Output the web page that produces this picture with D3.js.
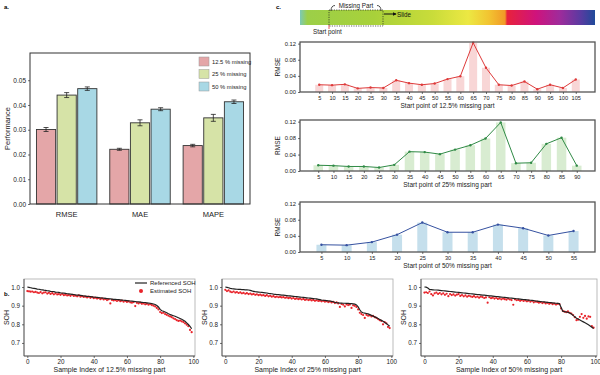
<!DOCTYPE html>
<html>
<head>
<meta charset="utf-8">
<script src="https://cdn.jsdelivr.net/npm/d3@7"></script>
<style>
  body { margin: 0; background: #fff; }
  svg { display: block; font-family: "Liberation Sans", Arial, sans-serif; }
</style>
</head>
<body>
<svg id="fig" width="600" height="375"></svg>
<script>
// ---- panel a: mean performance with error bars ----
const metrics = ["RMSE", "MAE", "MAPE"];
const missingLevels = ["12.5 % missing", "25 % missing", "50 % missing"];
const meanRMSE = [0.0301, 0.0440, 0.0466];
const meanMAE = [0.0221, 0.0328, 0.0383];
const meanMAPE = [0.0236, 0.0348, 0.0413];
const errRMSE = [0.0008, 0.0010, 0.0007];
const errMAE = [0.0004, 0.0012, 0.0006];
const errMAPE = [0.0005, 0.0014, 0.0007];
const perfTicks = [0, 0.01, 0.02, 0.03, 0.04, 0.05];

// ---- panel c: sliding missing part ----
const start125 = [5, 10, 15, 20, 25, 30, 35, 40, 45, 50, 55, 60, 65, 70, 75, 80, 85, 90, 95, 100, 105];
const rmse125 = [0.018, 0.017, 0.019, 0.009, 0.011, 0.010, 0.029, 0.022, 0.018, 0.021, 0.032, 0.039,
  0.122, 0.060, 0.018, 0.016, 0.026, 0.007, 0.018, 0.010, 0.031];
const start25 = [5, 10, 15, 20, 25, 30, 35, 40, 45, 50, 55, 60, 65, 70, 75, 80, 85, 90];
const rmse25 = [0.014, 0.013, 0.011, 0.011, 0.0085, 0.015, 0.047, 0.046, 0.041, 0.052, 0.0625, 0.079,
  0.118, 0.019, 0.020, 0.066, 0.081, 0.013];
const start50 = [5, 10, 15, 20, 25, 30, 35, 40, 45, 50, 55];
const rmse50 = [0.018, 0.017, 0.0245, 0.043, 0.073, 0.049, 0.049, 0.068, 0.059, 0.041, 0.052];
const rmseTicks = [0, 0.04, 0.08, 0.12];

// ---- panel b: referenced vs estimated SOH (sample index = position) ----
const refSoh125 = [
  1.000, 0.998, 0.996, 0.994, 0.993, 0.991, 0.989, 0.988, 0.986, 0.985,
  0.983, 0.982, 0.980, 0.979, 0.977, 0.976, 0.975, 0.973, 0.972, 0.971,
  0.969, 0.968, 0.967, 0.966, 0.964, 0.963, 0.962, 0.961, 0.960, 0.958,
  0.957, 0.956, 0.955, 0.954, 0.952, 0.951, 0.950, 0.949, 0.948, 0.947,
  0.946, 0.945, 0.944, 0.943, 0.942, 0.941, 0.940, 0.939, 0.938, 0.937,
  0.936, 0.935, 0.934, 0.934, 0.933, 0.932, 0.931, 0.930, 0.929, 0.928,
  0.927, 0.926, 0.925, 0.924, 0.923, 0.922, 0.921, 0.920, 0.919, 0.918,
  0.917, 0.916, 0.915, 0.914, 0.913, 0.911, 0.909, 0.906, 0.901, 0.893,
  0.880, 0.873, 0.870, 0.866, 0.862, 0.857, 0.853, 0.849, 0.846, 0.843,
  0.839, 0.835, 0.831, 0.827, 0.822, 0.816, 0.808, 0.799, 0.789, 0.776];
const estSoh125 = [
  0.978, 0.977, 0.975, 0.976, 0.972, 0.974, 0.970, 0.968, 0.973, 0.966,
  0.970, 0.972, 0.965, 0.969, 0.963, 0.967, 0.961, 0.966, 0.960, 0.962,
  0.958, 0.963, 0.956, 0.959, 0.955, 0.957, 0.953, 0.958, 0.952, 0.954,
  0.950, 0.955, 0.948, 0.951, 0.947, 0.949, 0.944, 0.948, 0.942, 0.946,
  0.940, 0.943, 0.938, 0.941, 0.935, 0.939, 0.933, 0.936, 0.930, 0.934,
  0.912, 0.931, 0.928, 0.930, 0.925, 0.929, 0.924, 0.927, 0.921, 0.925,
  0.920, 0.923, 0.918, 0.916, 0.919, 0.898, 0.915, 0.912, 0.916, 0.910,
  0.912, 0.907, 0.910, 0.905, 0.908, 0.903, 0.900, 0.896, 0.888, 0.880,
  0.866, 0.860, 0.862, 0.855, 0.851, 0.846, 0.842, 0.838, 0.832, 0.828,
  0.822, 0.818, 0.820, 0.816, 0.812, 0.805, 0.798, 0.790, 0.770, 0.758];
const refSoh25 = [
  1.000, 0.998, 0.996, 0.993, 0.991, 0.990, 0.989, 0.988, 0.987, 0.987,
  0.986, 0.986, 0.985, 0.985, 0.984, 0.982, 0.979, 0.977, 0.975, 0.974,
  0.973, 0.972, 0.971, 0.970, 0.969, 0.968, 0.966, 0.965, 0.964, 0.962,
  0.961, 0.960, 0.959, 0.958, 0.957, 0.956, 0.955, 0.954, 0.953, 0.952,
  0.951, 0.950, 0.949, 0.948, 0.947, 0.946, 0.945, 0.944, 0.943, 0.942,
  0.941, 0.940, 0.939, 0.938, 0.937, 0.936, 0.934, 0.932, 0.930, 0.929,
  0.928, 0.927, 0.926, 0.925, 0.923, 0.921, 0.918, 0.916, 0.915, 0.914,
  0.914, 0.913, 0.913, 0.912, 0.912, 0.911, 0.911, 0.910, 0.908, 0.904,
  0.894, 0.878, 0.866, 0.862, 0.860, 0.858, 0.856, 0.852, 0.848, 0.844,
  0.840, 0.836, 0.831, 0.826, 0.821, 0.816, 0.810, 0.804, 0.797, 0.790];
const estSoh25 = [
  0.985, 0.978, 0.982, 0.975, 0.972, 0.976, 0.970, 0.973, 0.968, 0.971,
  0.966, 0.969, 0.964, 0.967, 0.962, 0.965, 0.960, 0.963, 0.958, 0.961,
  0.956, 0.959, 0.955, 0.957, 0.952, 0.956, 0.950, 0.953, 0.948, 0.951,
  0.946, 0.949, 0.945, 0.947, 0.944, 0.946, 0.942, 0.944, 0.940, 0.943,
  0.938, 0.941, 0.936, 0.939, 0.935, 0.937, 0.933, 0.936, 0.931, 0.934,
  0.930, 0.932, 0.928, 0.931, 0.926, 0.929, 0.925, 0.927, 0.923, 0.926,
  0.921, 0.924, 0.919, 0.922, 0.917, 0.920, 0.914, 0.918, 0.912, 0.893,
  0.909, 0.905, 0.896, 0.907, 0.903, 0.906, 0.888, 0.902, 0.899, 0.893,
  0.880, 0.862, 0.855, 0.850, 0.834, 0.851, 0.846, 0.848, 0.842, 0.845,
  0.838, 0.834, 0.828, 0.822, 0.818, 0.800, 0.812, 0.805, 0.786, 0.780];
const refSoh50 = [
  1.000, 0.999, 0.995, 0.987, 0.986, 0.985, 0.984, 0.984, 0.983, 0.982,
  0.981, 0.980, 0.979, 0.978, 0.977, 0.976, 0.975, 0.974, 0.973, 0.972,
  0.971, 0.970, 0.969, 0.968, 0.967, 0.966, 0.965, 0.964, 0.963, 0.962,
  0.961, 0.960, 0.959, 0.958, 0.957, 0.956, 0.955, 0.954, 0.953, 0.952,
  0.951, 0.950, 0.949, 0.948, 0.947, 0.946, 0.945, 0.944, 0.943, 0.942,
  0.941, 0.940, 0.939, 0.938, 0.937, 0.936, 0.935, 0.934, 0.933, 0.932,
  0.931, 0.930, 0.929, 0.928, 0.927, 0.925, 0.924, 0.923, 0.922, 0.921,
  0.920, 0.919, 0.918, 0.917, 0.916, 0.915, 0.914, 0.913, 0.912, 0.911,
  0.890, 0.870, 0.868, 0.866, 0.864, 0.861, 0.855, 0.848, 0.840, 0.833,
  0.828, 0.823, 0.818, 0.813, 0.808, 0.803, 0.797, 0.791, 0.784, 0.777];
const estSoh50 = [
  0.970, 0.972, 0.968, 0.976, 0.962, 0.955, 0.966, 0.970, 0.963, 0.968,
  0.961, 0.966, 0.958, 0.964, 0.951, 0.962, 0.957, 0.960, 0.954, 0.959,
  0.962, 0.952, 0.957, 0.950, 0.955, 0.948, 0.953, 0.950, 0.947, 0.951,
  0.945, 0.949, 0.943, 0.948, 0.946, 0.941, 0.944, 0.916, 0.945, 0.940,
  0.943, 0.938, 0.941, 0.936, 0.939, 0.934, 0.938, 0.935, 0.932, 0.937,
  0.933, 0.930, 0.905, 0.934, 0.929, 0.931, 0.926, 0.930, 0.925, 0.928,
  0.923, 0.927, 0.921, 0.925, 0.918, 0.922, 0.920, 0.916, 0.919, 0.914,
  0.917, 0.912, 0.915, 0.910, 0.913, 0.908, 0.911, 0.906, 0.910, 0.908,
  0.885, 0.872, 0.868, 0.865, 0.870, 0.862, 0.858, 0.850, 0.838, 0.822,
  0.825, 0.840, 0.855, 0.835, 0.845, 0.830, 0.842, 0.840, 0.790, 0.782];
const sohTicks = [0.7, 0.8, 0.9, 1.0];
const sampleTicks = [0, 20, 40, 60, 80, 100];

const svg = d3.select("#fig");
svg.append("rect").attr("width", 600).attr("height", 375).attr("fill", "#fff");

// panel letters
svg.append("text").attr("x", 4).attr("y", 9).attr("font-size", 6).attr("font-weight", "bold").text("a.");
svg.append("text").attr("x", 276).attr("y", 9).attr("font-size", 6).attr("font-weight", "bold").text("c.");
svg.append("text").attr("x", 4).attr("y", 296).attr("font-size", 6).attr("font-weight", "bold").text("b.");

function styleAxis(g, fs) {
  g.select(".domain").remove();
  g.selectAll(".tick line").attr("stroke", "#333").attr("stroke-width", 0.7);
  g.selectAll(".tick text").attr("font-size", fs).attr("fill", "#222");
}

// ================= panel a =================
(function () {
  const x0 = 30, x1 = 250, y0 = 53, y1 = 204;
  const g = svg.append("g");
  const barFill = ["#e4a6a8", "#d6e3a7", "#a8d8e5"];
  const means = [meanRMSE, meanMAE, meanMAPE];
  const errs = [errRMSE, errMAE, errMAPE];

  const xg = d3.scaleBand().domain(metrics).range([x0, x1]);
  const xs = d3.scaleBand().domain(missingLevels).range([5, xg.bandwidth() - 5]).padding(0.07);
  const y = d3.scaleLinear().domain([0, 0.061]).range([y1, y0]);

  const rows = [];
  metrics.forEach((m, i) => missingLevels.forEach((l, j) => rows.push({ m, l, j, v: means[i][j], e: errs[i][j] })));

  g.selectAll(".bar").data(rows).enter().append("rect")
    .attr("x", d => xg(d.m) + xs(d.l))
    .attr("y", d => y(d.v))
    .attr("width", xs.bandwidth())
    .attr("height", d => y1 - y(d.v))
    .attr("fill", d => barFill[d.j])
    .attr("stroke", "#333").attr("stroke-width", 0.9);

  const eb = g.selectAll(".err").data(rows).enter().append("g")
    .attr("transform", d => `translate(${xg(d.m) + xs(d.l) + xs.bandwidth() / 2},0)`);
  eb.append("line").attr("y1", d => y(d.v - d.e)).attr("y2", d => y(d.v + d.e)).attr("stroke", "#222").attr("stroke-width", 0.8);
  eb.append("line").attr("x1", -2.5).attr("x2", 2.5).attr("y1", d => y(d.v + d.e)).attr("y2", d => y(d.v + d.e)).attr("stroke", "#222").attr("stroke-width", 0.8);
  eb.append("line").attr("x1", -2.5).attr("x2", 2.5).attr("y1", d => y(d.v - d.e)).attr("y2", d => y(d.v - d.e)).attr("stroke", "#222").attr("stroke-width", 0.8);

  g.append("rect").attr("x", x0).attr("y", y0).attr("width", x1 - x0).attr("height", y1 - y0)
    .attr("fill", "none").attr("stroke", "#333").attr("stroke-width", 1);

  const ya = g.append("g").attr("transform", `translate(${x0},0)`)
    .call(d3.axisLeft(y).tickValues(perfTicks).tickFormat(d3.format(".2f")).tickSize(2).tickPadding(2));
  styleAxis(ya, 6.5);
  const xa = g.append("g").attr("transform", `translate(0,${y1})`)
    .call(d3.axisBottom(xg).tickSize(0).tickPadding(8));
  styleAxis(xa, 7.5);

  g.append("text").attr("transform", `translate(10,${(y0 + y1) / 2}) rotate(-90)`)
    .attr("text-anchor", "middle").attr("font-size", 7.5).attr("fill", "#222").text("Performance");

  // legend
  const lg = g.selectAll(".leg").data(missingLevels).enter().append("g")
    .attr("transform", (d, i) => `translate(199,${57 + i * 12.5})`);
  lg.append("rect").attr("width", 10).attr("height", 9).attr("fill", (d, i) => barFill[i])
    .attr("stroke", "#999").attr("stroke-width", 0.5);
  lg.append("text").attr("x", 13).attr("y", 6.5).attr("font-size", 5.8).attr("fill", "#222").text(d => d);
})();

// ================= panel c =================
(function () {
  const defs = svg.append("defs");
  const grad = defs.append("linearGradient").attr("id", "slideGrad");
  const stops = [[0, "#7cc9b6"], [0.025, "#9ccf48"], [0.25, "#a8d13a"], [0.45, "#c9dc3a"],
    [0.57, "#ece843"], [0.64, "#f2c431"], [0.695, "#f19a27"], [0.702, "#e8223c"],
    [0.8, "#cf137c"], [0.88, "#9f2b9b"], [0.95, "#5b3aa1"], [1, "#1f4a9a"]];
  stops.forEach(s => grad.append("stop").attr("offset", s[0]).attr("stop-color", s[1]));
  svg.append("rect").attr("x", 300).attr("y", 10).attr("width", 295).attr("height", 15).attr("fill", "url(#slideGrad)");

  // missing part box and annotations
  svg.append("rect").attr("x", 329).attr("y", 10).attr("width", 54).attr("height", 16)
    .attr("fill", "none").attr("stroke", "#222").attr("stroke-width", 0.7).attr("stroke-dasharray", "1.2,1.2");
  svg.append("path").attr("d", "M331,11 Q331,5.5 335,5.5").attr("fill", "none").attr("stroke", "#222").attr("stroke-width", 0.8);
  svg.append("path").attr("d", "M377,5.5 Q381,5.5 381,11").attr("fill", "none").attr("stroke", "#222").attr("stroke-width", 0.8);
  svg.append("text").attr("x", 356).attr("y", 7.5).attr("text-anchor", "middle").attr("font-size", 6.3).attr("fill", "#222").text("Missing Part");
  defs.append("marker").attr("id", "arr").attr("viewBox", "0 0 6 6").attr("refX", 5).attr("refY", 3)
    .attr("markerWidth", 4).attr("markerHeight", 4).attr("orient", "auto")
    .append("path").attr("d", "M0,0 L6,3 L0,6 Z").attr("fill", "#111");
  svg.append("line").attr("x1", 384).attr("x2", 396).attr("y1", 14).attr("y2", 14)
    .attr("stroke", "#111").attr("stroke-width", 1).attr("marker-end", "url(#arr)");
  svg.append("text").attr("x", 397).attr("y", 16.5).attr("font-size", 6.3).attr("fill", "#111").text("Slide");
  svg.append("line").attr("x1", 329).attr("x2", 329).attr("y1", 25).attr("y2", 29).attr("stroke", "#e03030").attr("stroke-width", 0.8);
  svg.append("text").attr("x", 313).attr("y", 34).attr("font-size", 6.3).attr("fill", "#222").text("Start point");

  const panels = [
    { xs: start125, ys: rmse125, top: 42, bot: 92, pad: 1.5, bw: 8, line: "#de3a3a", bar: "#f8d6d6", label: "Start point of 12.5% missing part" },
    { xs: start25, ys: rmse25, top: 120, bot: 171, pad: 1.2, bw: 9.5, line: "#2f8a45", bar: "#d8ecd1", label: "Start point of 25% missing part" },
    { xs: start50, ys: rmse50, top: 202, bot: 252, pad: 0.85, bw: 10, line: "#3551a0", bar: "#c5dfec", label: "Start point of 50% missing part" }
  ];
  const x0 = 300, x1 = 595;
  panels.forEach(p => {
    const g = svg.append("g");
    const x = d3.scalePoint().domain(p.xs).range([x0, x1]).padding(p.pad);
    const y = d3.scaleLinear().domain([0, 0.124]).range([p.bot, p.top]);
    const pts = p.xs.map((s, i) => ({ s, v: p.ys[i] }));

    g.selectAll(".bar").data(pts).enter().append("rect")
      .attr("x", d => x(d.s) - p.bw / 2).attr("width", p.bw)
      .attr("y", d => y(d.v)).attr("height", d => p.bot - y(d.v))
      .attr("fill", p.bar);
    g.append("path").datum(pts)
      .attr("d", d3.line().x(d => x(d.s)).y(d => y(d.v)))
      .attr("fill", "none").attr("stroke", p.line).attr("stroke-width", 1);
    g.selectAll(".pt").data(pts).enter().append("circle")
      .attr("cx", d => x(d.s)).attr("cy", d => y(d.v)).attr("r", 1.2).attr("fill", p.line);

    g.append("rect").attr("x", x0).attr("y", p.top).attr("width", x1 - x0).attr("height", p.bot - p.top)
      .attr("fill", "none").attr("stroke", "#555").attr("stroke-width", 1.3);
    const ya = g.append("g").attr("transform", `translate(${x0},0)`)
      .call(d3.axisLeft(y).tickValues(rmseTicks).tickFormat(d3.format(".2f")).tickSize(2).tickPadding(2));
    styleAxis(ya, 5.8);
    const xa = g.append("g").attr("transform", `translate(0,${p.bot})`)
      .call(d3.axisBottom(x).tickSize(2).tickPadding(2));
    styleAxis(xa, 5.6);
    g.append("text").attr("x", (x0 + x1) / 2).attr("y", p.bot + 16).attr("text-anchor", "middle")
      .attr("font-size", 6.5).attr("fill", "#222").text(p.label);
    g.append("text").attr("transform", `translate(280,${(p.top + p.bot) / 2}) rotate(-90)`)
      .attr("text-anchor", "middle").attr("font-size", 6.5).attr("fill", "#222").text("RMSE");
  });
})();

// ================= panel b =================
(function () {
  const top = 279, bot = 356;
  const panels = [
    { ref: refSoh125, est: estSoh125, x0: 24, x1: 195, label: "Sample Index of 12.5% missing part", legend: true },
    { ref: refSoh25, est: estSoh25, x0: 222, x1: 393, label: "Sample Index of 25% missing part", legend: false },
    { ref: refSoh50, est: estSoh50, x0: 421, x1: 597, label: "Sample Index  of 50% missing part", legend: false }
  ];
  panels.forEach(p => {
    const g = svg.append("g");
    const x = d3.scaleLinear().domain([-2, 101]).range([p.x0, p.x1]);
    const y = d3.scaleLinear().domain([0.63, 1.043]).range([bot, top]);

    g.append("rect").attr("x", p.x0).attr("y", top).attr("width", p.x1 - p.x0).attr("height", bot - top)
      .attr("fill", "none").attr("stroke", "#aaa").attr("stroke-width", 0.8);
    g.append("line").attr("x1", p.x0).attr("x2", p.x0).attr("y1", top).attr("y2", bot).attr("stroke", "#444").attr("stroke-width", 0.8);
    g.append("line").attr("x1", p.x0).attr("x2", p.x1).attr("y1", bot).attr("y2", bot).attr("stroke", "#444").attr("stroke-width", 0.8);

    g.selectAll(".est").data(p.est).enter().append("circle")
      .attr("cx", (d, i) => x(i)).attr("cy", d => y(d)).attr("r", 1.1).attr("fill", "#e8232a");
    g.append("path").datum(p.ref)
      .attr("d", d3.line().x((d, i) => x(i)).y(d => y(d)))
      .attr("fill", "none").attr("stroke", "#222").attr("stroke-width", 1.2);

    const ya = g.append("g").attr("transform", `translate(${p.x0},0)`)
      .call(d3.axisLeft(y).tickValues(sohTicks).tickFormat(d3.format(".1f")).tickSize(2).tickPadding(2));
    styleAxis(ya, 6.3);
    const xa = g.append("g").attr("transform", `translate(0,${bot})`)
      .call(d3.axisBottom(x).tickValues(sampleTicks).tickSize(2).tickPadding(1.5));
    styleAxis(xa, 6.3);
    g.append("text").attr("x", (p.x0 + p.x1) / 2).attr("y", 372).attr("text-anchor", "middle")
      .attr("font-size", 7).attr("fill", "#222").text(p.label);
    g.append("text").attr("transform", `translate(${p.x0 - 15},${(top + bot) / 2}) rotate(-90)`)
      .attr("text-anchor", "middle").attr("font-size", 7).attr("fill", "#222").text("SOH");

    if (p.legend) {
      g.append("line").attr("x1", 135).attr("x2", 147).attr("y1", 283).attr("y2", 283).attr("stroke", "#222").attr("stroke-width", 1.2);
      g.append("text").attr("x", 150).attr("y", 285.3).attr("font-size", 6).attr("fill", "#222").text("Referenced SOH");
      g.append("circle").attr("cx", 141).attr("cy", 291).attr("r", 2).attr("fill", "#e8232a");
      g.append("text").attr("x", 150).attr("y", 293.3).attr("font-size", 6).attr("fill", "#222").text("Estimated SOH");
    }
  });
})();
</script>
</body>
</html>
